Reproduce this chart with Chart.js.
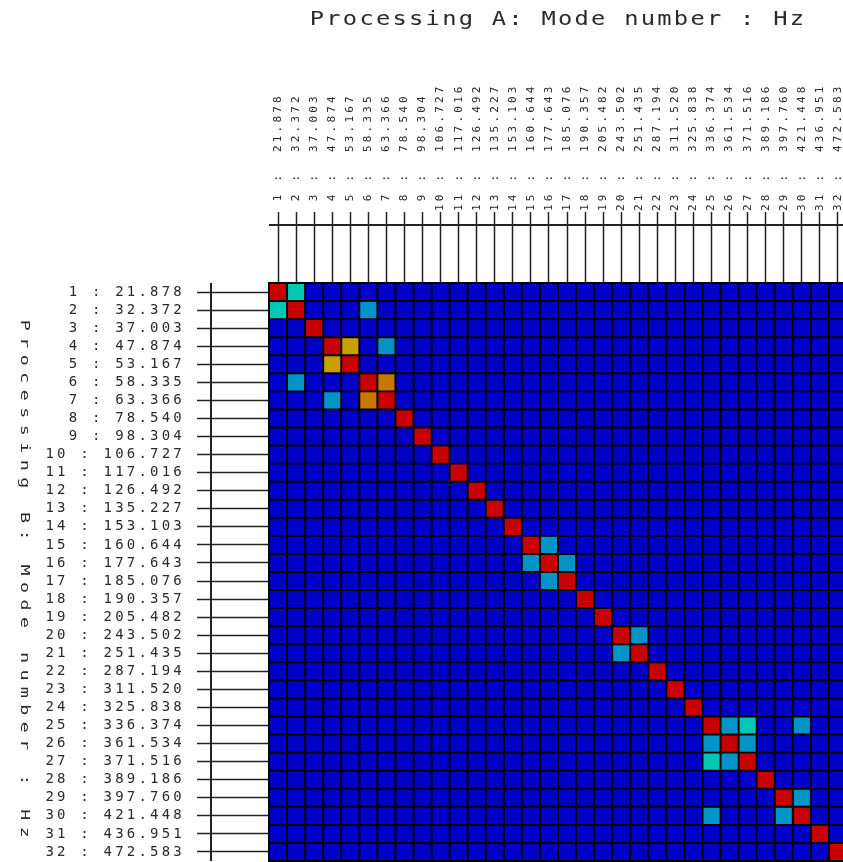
<!DOCTYPE html>
<html>
<head>
<meta charset="utf-8">
<title>MAC matrix</title>
<script src="https://cdn.jsdelivr.net/npm/chart.js@4.4.1/dist/chart.umd.min.js"></script>
<style>
  html, body { margin: 0; padding: 0; background: #fff; overflow: hidden; }
  #wrap { position: relative; width: 848px; height: 862px; }
</style>
</head>
<body>
<div id="wrap"><canvas id="mac" width="848" height="862"></canvas></div>
<script>
// ── Data ─────────────────────────────────────────────────────────────────────
// mode frequencies (Hz) of processing A (columns) and processing B (rows)
const freqA = [21.878, 32.372, 37.003, 47.874, 53.167, 58.335, 63.366, 78.540,
  98.304, 106.727, 117.016, 126.492, 135.227, 153.103, 160.644, 177.643,
  185.076, 190.357, 205.482, 243.502, 251.435, 287.194, 311.520, 325.838,
  336.374, 361.534, 371.516, 389.186, 397.760, 421.448, 436.951, 472.583];
const freqB = [21.878, 32.372, 37.003, 47.874, 53.167, 58.335, 63.366, 78.540,
  98.304, 106.727, 117.016, 126.492, 135.227, 153.103, 160.644, 177.643,
  185.076, 190.357, 205.482, 243.502, 251.435, 287.194, 311.520, 325.838,
  336.374, 361.534, 371.516, 389.186, 397.760, 421.448, 436.951, 472.583];

// MAC on the diagonal (all in the top colour band)
const diagonalMac = [0.99, 0.99, 0.99, 0.99, 0.99, 0.99, 0.99, 0.99,
  0.99, 0.99, 0.99, 0.99, 0.99, 0.99, 0.99, 0.99,
  0.99, 0.99, 0.99, 0.99, 0.99, 0.99, 0.99, 0.99,
  0.99, 0.99, 0.99, 0.99, 0.99, 0.99, 0.99, 0.99];

// off-diagonal couplings [mode B, mode A, MAC] (matrix is symmetric)
const offDiagonalMac = [
  [1, 2, 0.45], [2, 6, 0.30], [4, 5, 0.60], [4, 7, 0.30], [6, 7, 0.75],
  [15, 16, 0.30], [16, 17, 0.30], [20, 21, 0.30],
  [25, 26, 0.30], [25, 27, 0.45], [26, 27, 0.30], [25, 30, 0.30], [29, 30, 0.30]
];
const backgroundMac = 0.03;   // every other cell sits in the lowest band

// colour bands, highest first
const macBands = [0.9, 0.65, 0.5, 0.4, 0.2, 0];
const bandColours = ["#c80000", "#c87800", "#c8a000", "#00c8b4", "#0094c8", "#0000c8"];

// ── Matrix + labels ──────────────────────────────────────────────────────────
const mac = freqB.map((_, r) => freqA.map((_, c) => r === c ? diagonalMac[r] : backgroundMac));
offDiagonalMac.forEach(([r, c, v]) => { mac[r - 1][c - 1] = v; mac[c - 1][r - 1] = v; });

const colLabels = freqA.map((f, i) => String(i + 1).padStart(2, " ") + " :  " + f.toFixed(3));
const rowLabels = freqB.map((f, i) => (i + 1) + " : " + f.toFixed(3));

function macColour(v) {
  const i = macBands.findIndex(b => v >= b);
  return bandColours[i < 0 ? bandColours.length - 1 : i];
}

// one floating-bar dataset per row of processing B
const datasets = rowLabels.map((lbl, r) => ({
  label: lbl,
  data: colLabels.map((cl, c) => ({ x: cl, y: [r + 0.5, r + 1.5], mac: mac[r][c] })),
  backgroundColor: ctx => ctx.raw ? macColour(ctx.raw.mac) : bandColours[5],
  borderColor: "#000",
  borderWidth: 1.3,
  borderSkipped: false,
  grouped: false,
  categoryPercentage: 1,
  barPercentage: 1,
  xAxisID: "x",
  yAxisID: "y",
}));

// ── Frame, rulers and axis titles ────────────────────────────────────────────
const RULER_GAP = 58;
const macFrame = {
  id: "macFrame",
  beforeDraw(chart) {
    chart.ctx.letterSpacing = "3.2px";
  },
  beforeDatasetsDraw(chart) {
    const { ctx, chartArea: a } = chart;
    ctx.save();
    ctx.fillStyle = "#000";
    ctx.fillRect(a.left - 1, a.top - 1, a.width + 2, a.height + 2);
    ctx.restore();
  },
  afterDraw(chart) {
    const { ctx, chartArea: a } = chart;
    ctx.save();
    ctx.strokeStyle = "#222";
    ctx.lineWidth = 2;
    ctx.beginPath();
    ctx.moveTo(a.left, a.top - RULER_GAP);
    ctx.lineTo(a.right, a.top - RULER_GAP);
    ctx.moveTo(a.left - RULER_GAP, a.top);
    ctx.lineTo(a.left - RULER_GAP, a.bottom);
    ctx.stroke();

    ctx.fillStyle = "#2a2a2a";
    ctx.textAlign = "center";
    ctx.textBaseline = "middle";

    // processing A title across the top
    ctx.save();
    ctx.letterSpacing = "1.8px";
    ctx.font = '19px "DejaVu Sans Mono"';
    ctx.translate((a.left + a.right) / 2, 20);
    ctx.scale(1.25, 1);
    ctx.fillText("Processing A: Mode number : Hz", 0, 0);
    ctx.restore();

    // processing B title down the left side
    ctx.save();
    ctx.letterSpacing = "4px";
    ctx.font = '11.5px "DejaVu Sans Mono"';
    ctx.translate(24, (a.top + a.bottom) / 2 + 10);
    ctx.rotate(Math.PI / 2);
    ctx.scale(1.6, 1);
    ctx.fillText("Processing B: Mode number : Hz", 0, 0);
    ctx.restore();
    ctx.restore();
  }
};

// ── Chart ────────────────────────────────────────────────────────────────────
new Chart(document.getElementById("mac"), {
  type: "bar",
  data: { labels: colLabels, datasets },
  plugins: [macFrame],
  options: {
    responsive: false,
    animation: false,
    layout: { padding: { top: 0, left: 0, right: 1, bottom: 1 } },
    plugins: { legend: { display: false }, tooltip: { enabled: false }, title: { display: false } },
    scales: {
      x: {
        type: "category",
        position: "top",
        offset: true,
        afterFit: s => { s.height = 283; s.paddingLeft = 0; s.paddingRight = 0; },
        grid: { offset: false, drawOnChartArea: false, tickLength: 71, tickColor: "#222", tickWidth: 1.5 },
        border: { display: true, color: "#000", width: 2, z: 1 },
        ticks: {
          autoSkip: false, minRotation: 90, maxRotation: 90, padding: 1, labelOffset: 13.2,
          color: "#2a2a2a", font: { family: "DejaVu Sans Mono", size: 11 }
        }
      },
      y: {
        type: "linear",
        display: false,
        min: 0.5,
        max: 32.5,
        reverse: true
      },
      yRows: {
        type: "category",
        position: "left",
        labels: rowLabels,
        offset: true,
        afterFit: s => { s.width = 269; s.paddingTop = 0; s.paddingBottom = 0; },
        grid: { offset: false, drawOnChartArea: false, tickLength: 72, tickColor: "#222", tickWidth: 1.5 },
        border: { display: true, color: "#000", width: 2, z: 1 },
        ticks: {
          autoSkip: false, padding: 12,
          color: "#2a2a2a", font: { family: "DejaVu Sans Mono", size: 14 }
        }
      }
    }
  }
});
</script>
</body>
</html>
